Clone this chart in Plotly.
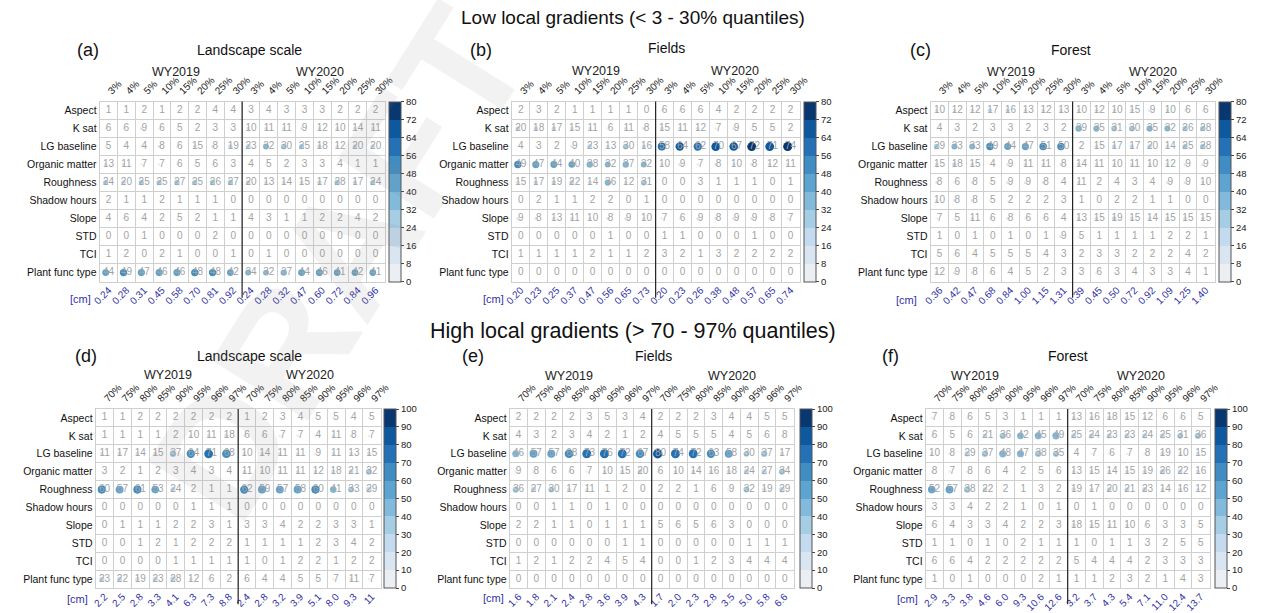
import numpy as np
import plotly.graph_objects as go

# ---------------------------------------------------------------- data
rows = ["Aspect", "K sat", "LG baseline", "Organic matter", "Roughness",
        "Shadow hours", "Slope", "STD", "TCI", "Plant func type"]
low_q = ["3%", "4%", "5%", "10%", "15%", "20%", "25%", "30%"]
high_q = ["70%", "75%", "80%", "85%", "90%", "95%", "96%", "97%"]

# each row: 8 quantiles of WY2019 followed by 8 quantiles of WY2020 (share in %)
land_low = [
    [1, 1, 2, 1, 2, 2, 4, 4, 3, 4, 3, 3, 3, 2, 2, 2],
    [6, 6, 9, 6, 5, 2, 3, 3, 10, 11, 11, 9, 12, 10, 14, 11],
    [5, 4, 4, 8, 6, 15, 8, 19, 23, 32, 30, 25, 18, 12, 20, 20],
    [13, 11, 7, 7, 6, 5, 6, 3, 4, 5, 2, 3, 3, 4, 1, 1],
    [24, 20, 25, 25, 27, 25, 26, 27, 20, 13, 14, 15, 17, 28, 17, 24],
    [2, 1, 1, 2, 1, 1, 1, 0, 0, 0, 0, 0, 0, 0, 0, 0],
    [4, 6, 4, 2, 5, 2, 1, 1, 4, 3, 1, 1, 2, 2, 4, 2],
    [0, 0, 1, 0, 0, 0, 2, 0, 0, 0, 0, 0, 0, 0, 0, 0],
    [1, 2, 0, 2, 1, 0, 0, 1, 0, 1, 0, 0, 0, 0, 0, 0],
    [44, 49, 47, 46, 46, 48, 48, 42, 34, 32, 37, 44, 46, 41, 42, 41],
]
fields_low = [
    [2, 3, 2, 1, 1, 1, 1, 0, 6, 6, 6, 4, 2, 2, 2, 2],
    [20, 18, 17, 15, 11, 6, 11, 8, 15, 11, 12, 7, 9, 5, 5, 2],
    [4, 3, 2, 9, 23, 13, 30, 16, 58, 64, 62, 70, 67, 72, 71, 74],
    [49, 47, 44, 40, 38, 32, 37, 32, 10, 9, 7, 8, 10, 8, 12, 11],
    [15, 17, 19, 22, 14, 36, 12, 31, 0, 0, 3, 1, 1, 1, 0, 1],
    [0, 2, 1, 1, 2, 2, 0, 1, 0, 0, 0, 0, 0, 0, 0, 0],
    [9, 8, 13, 11, 10, 8, 9, 10, 7, 6, 9, 8, 9, 9, 8, 7],
    [0, 0, 0, 0, 0, 1, 0, 0, 1, 1, 0, 0, 0, 1, 0, 0],
    [1, 1, 1, 1, 2, 1, 1, 2, 3, 2, 1, 3, 2, 2, 2, 2],
    [0, 0, 0, 0, 0, 0, 0, 0, 0, 0, 0, 0, 0, 0, 0, 0],
]
forest_low = [
    [10, 12, 12, 17, 16, 13, 12, 13, 10, 12, 10, 15, 9, 10, 6, 6],
    [4, 3, 2, 3, 3, 2, 3, 2, 39, 35, 31, 30, 35, 32, 26, 28],
    [29, 33, 33, 49, 44, 47, 51, 50, 2, 15, 17, 17, 20, 14, 25, 28],
    [15, 18, 15, 4, 9, 11, 11, 8, 14, 11, 10, 11, 10, 12, 9, 9],
    [8, 6, 8, 5, 9, 9, 8, 4, 11, 2, 4, 3, 4, 9, 9, 10],
    [10, 8, 8, 5, 2, 2, 2, 3, 1, 0, 2, 2, 1, 1, 0, 0],
    [7, 5, 11, 6, 8, 6, 6, 4, 13, 15, 19, 15, 14, 15, 15, 15],
    [1, 0, 1, 0, 1, 0, 1, 9, 5, 1, 1, 1, 1, 2, 2, 1],
    [5, 6, 4, 5, 5, 5, 4, 3, 2, 3, 3, 2, 2, 2, 4, 2],
    [12, 9, 8, 6, 4, 5, 2, 3, 3, 6, 3, 4, 3, 3, 4, 1],
]
land_high = [
    [1, 1, 2, 2, 2, 2, 2, 2, 1, 2, 3, 4, 5, 5, 4, 5],
    [1, 1, 1, 1, 2, 10, 11, 18, 6, 6, 7, 7, 4, 11, 8, 7],
    [11, 17, 14, 15, 37, 64, 71, 68, 10, 14, 11, 11, 9, 11, 13, 15],
    [3, 2, 1, 2, 3, 4, 3, 4, 11, 10, 11, 11, 12, 18, 21, 32],
    [60, 57, 61, 53, 24, 2, 1, 1, 62, 59, 57, 58, 60, 41, 33, 29],
    [0, 0, 0, 0, 0, 1, 1, 1, 0, 0, 0, 0, 0, 0, 0, 0],
    [0, 1, 1, 1, 2, 2, 3, 1, 3, 3, 4, 2, 2, 3, 3, 1],
    [0, 0, 1, 2, 1, 2, 2, 2, 1, 1, 1, 1, 2, 3, 4, 2],
    [0, 0, 0, 0, 1, 1, 1, 1, 1, 0, 1, 2, 2, 1, 2, 2],
    [23, 22, 19, 23, 28, 12, 6, 2, 6, 4, 4, 5, 5, 7, 11, 7],
]
fields_high = [
    [2, 2, 2, 2, 3, 5, 3, 4, 2, 2, 2, 3, 4, 4, 5, 5],
    [4, 3, 2, 3, 4, 2, 1, 2, 4, 5, 5, 5, 4, 5, 6, 8],
    [46, 57, 57, 68, 73, 76, 72, 67, 80, 74, 72, 63, 58, 30, 37, 17],
    [9, 8, 6, 6, 7, 10, 15, 20, 6, 10, 14, 16, 18, 24, 27, 34],
    [36, 27, 30, 17, 11, 1, 2, 0, 2, 2, 1, 6, 9, 32, 19, 29],
    [0, 0, 1, 1, 0, 1, 0, 0, 0, 0, 0, 0, 0, 0, 0, 0],
    [2, 2, 1, 1, 0, 1, 1, 1, 5, 6, 5, 6, 3, 0, 0, 0],
    [0, 0, 0, 0, 0, 0, 1, 1, 0, 0, 0, 0, 0, 1, 1, 1],
    [1, 2, 1, 2, 2, 4, 5, 4, 0, 0, 1, 2, 3, 4, 4, 4],
    [0, 0, 0, 0, 0, 0, 0, 0, 0, 0, 0, 0, 0, 0, 0, 0],
]
forest_high = [
    [7, 8, 6, 5, 3, 1, 1, 1, 13, 16, 18, 15, 12, 6, 6, 5],
    [6, 5, 6, 21, 36, 42, 45, 49, 25, 24, 23, 23, 24, 25, 31, 36],
    [10, 8, 29, 37, 48, 47, 38, 35, 4, 7, 6, 7, 8, 19, 10, 15],
    [8, 7, 8, 6, 4, 2, 5, 6, 13, 15, 14, 15, 19, 26, 22, 16],
    [52, 57, 38, 22, 2, 1, 3, 2, 19, 17, 20, 21, 23, 14, 16, 12],
    [3, 3, 4, 2, 2, 1, 0, 1, 0, 1, 0, 0, 0, 0, 0, 0],
    [6, 4, 3, 3, 4, 2, 2, 3, 18, 15, 11, 10, 6, 3, 3, 5],
    [1, 1, 0, 1, 0, 2, 1, 1, 1, 0, 1, 1, 3, 2, 5, 5],
    [6, 6, 4, 2, 2, 2, 2, 2, 5, 4, 4, 4, 2, 3, 3, 3],
    [1, 0, 1, 0, 0, 0, 2, 1, 1, 1, 2, 3, 2, 1, 4, 3],
]

land_low_cm = ["0.24", "0.28", "0.31", "0.45", "0.58", "0.70", "0.81", "0.92",
               "0.24", "0.28", "0.32", "0.47", "0.60", "0.72", "0.84", "0.96"]
fields_low_cm = ["0.20", "0.23", "0.25", "0.37", "0.47", "0.56", "0.65", "0.73",
                 "0.20", "0.23", "0.26", "0.38", "0.48", "0.57", "0.65", "0.74"]
forest_low_cm = ["0.36", "0.42", "0.47", "0.68", "0.84", "1.00", "1.15", "1.31",
                 "0.39", "0.45", "0.50", "0.72", "0.92", "1.09", "1.25", "1.40"]
land_high_cm = ["2.2", "2.5", "2.8", "3.3", "4.1", "6.3", "7.3", "8.8",
                "2.4", "2.8", "3.2", "3.9", "5.1", "8.0", "9.3", "11"]
fields_high_cm = ["1.6", "1.8", "2.1", "2.4", "2.8", "3.6", "3.9", "4.3",
                  "1.7", "2.0", "2.3", "2.8", "3.5", "5.0", "5.8", "6.6"]
forest_high_cm = ["2.9", "3.3", "3.8", "4.6", "6.0", "9.3", "10.6", "12.6",
                  "3.2", "3.7", "4.3", "5.4", "7.1", "11.0", "12.4", "13.7"]

# ---------------------------------------------------------------- styling
W, H = 1263, 613
FONT = "Liberation Sans, Arial, sans-serif"
GRID = "#cfcfcf"
NUM_COLOR = "#a3a3a3"
CM_COLOR = "#3232a6"
BLUES10 = ["#ebeff3", "#d9e5f0", "#c4daee", "#a5cde3", "#82badb",
           "#5ea4d1", "#3f8dc3", "#2472b5", "#0e589f", "#08386f"]


def px(x):
    return x / W


def py(y):
    return 1 - y / H


def stepped(colors):
    n = len(colors)
    scale = []
    for k, c in enumerate(colors):
        scale.append([k / n, c])
        scale.append([(k + 1) / n, c])
    return scale


CSCALE = stepped(BLUES10)

# panel geometry in pixels: grid box, colour bar left edge, header positions
panels = [
    dict(tag="(a)", name="Landscape scale", v=land_low, cm=land_low_cm, q=low_q, vmax=80,
         box=(93, 382, 102, 283), cbx=387, tag_xy=(81, 50), name_xy=(245, 50),
         wy=(170, 317, 72), cm_xy=(74, 300)),
    dict(tag="(b)", name="Fields", v=fields_low, cm=fields_low_cm, q=low_q, vmax=80,
         box=(511, 803, 102, 283), cbx=808, tag_xy=(480, 50), name_xy=(668, 48),
         wy=(596, 738, 71), cm_xy=(493, 300)),
    dict(tag="(c)", name="Forest", v=forest_low, cm=forest_low_cm, q=low_q, vmax=80,
         box=(936, 1224, 102, 283), cbx=1229, tag_xy=(926, 50), name_xy=(1078, 50),
         wy=(1017, 1162, 72), cm_xy=(911, 301)),
    dict(tag="(d)", name="Landscape scale", v=land_high, cm=land_high_cm, q=high_q, vmax=100,
         box=(89, 378, 411, 591), cbx=381, tag_xy=(79, 358), name_xy=(245, 358),
         wy=(162, 306, 377), cm_xy=(71, 602)),
    dict(tag="(e)", name="Fields", v=fields_high, cm=fields_high_cm, q=high_q, vmax=100,
         box=(509, 797, 411, 591), cbx=803, tag_xy=(472, 358), name_xy=(655, 358),
         wy=(569, 734, 378), cm_xy=(493, 601)),
    dict(tag="(f)", name="Forest", v=forest_high, cm=forest_high_cm, q=high_q, vmax=100,
         box=(931, 1219, 411, 591), cbx=1224, tag_xy=(895, 358), name_xy=(1075, 358),
         wy=(981, 1149, 378), cm_xy=(913, 602)),
]

fig = go.Figure()
layout = dict(
    width=W, height=H, margin=dict(l=0, r=0, t=0, b=0),
    paper_bgcolor="white", plot_bgcolor="white", showlegend=False,
    font=dict(family=FONT, color="#222"),
)
annotations = []
shapes = []

ncol = 16
cols = np.arange(ncol)
row_idx = np.arange(len(rows))

for i, p in enumerate(panels):
    xa, xb, ya = 2 * i + 1, 2 * i + 2, i + 1
    xa_name = "x" if xa == 1 else f"x{xa}"
    xb_name = f"x{xb}"
    ya_name = "y" if ya == 1 else f"y{ya}"
    x0, x1, y0, y1 = p["box"]

    vals = np.array(p["v"], dtype=float)
    cx, cy = np.meshgrid(cols, row_idx)
    cx = cx.ravel()
    cy = cy.ravel()
    vv = vals.ravel()

    # bubbles: area grows with the share, colour on a stepped Blues scale
    fig.add_trace(go.Scatter(
        x=cx - 0.16, y=cy, mode="markers", xaxis=xa_name, yaxis=ya_name,
        hoverinfo="skip",
        marker=dict(
            size=np.sqrt(vv) * 1.05, color=vv, colorscale=CSCALE,
            cmin=0, cmax=p["vmax"], line=dict(width=0), opacity=1,
            showscale=True,
            colorbar=dict(
                x=px(p["cbx"]), xanchor="left", xpad=0, ypad=0,
                y=py((y0 + y1) / 2), yanchor="middle",
                len=(y1 - y0) / H, lenmode="fraction",
                thickness=12, thicknessmode="pixels",
                outlinewidth=1, outlinecolor="#555",
                ticks="outside", ticklen=3, tickcolor="#444",
                tickvals=list(np.linspace(0, p["vmax"], 11)),
                ticktext=[str(int(t)) for t in np.linspace(0, p["vmax"], 11)],
                tickfont=dict(size=9.5, color="#222", family=FONT),
            ),
        ),
    ))
    # cell values
    fig.add_trace(go.Scatter(
        x=cx, y=cy, mode="text", xaxis=xb_name, yaxis=ya_name,
        text=[str(int(t)) for t in vv], hoverinfo="skip",
        textfont=dict(size=10, color=NUM_COLOR, family=FONT),
        textposition="middle center",
    ))

    dom_x = [px(x0), px(x1)]
    dom_y = [py(y1), py(y0)]
    minor_x = [k - 0.5 for k in range(ncol + 1)]
    minor_y = [k - 0.5 for k in range(len(rows) + 1)]

    layout[f"xaxis{'' if xa == 1 else xa}"] = dict(
        domain=dom_x, anchor=ya_name, range=[-0.5, ncol - 0.5], side="top",
        tickmode="array", tickvals=list(cols), ticktext=p["q"] * 2,
        tickangle=-45, tickfont=dict(size=10, color="#222"), ticks="",
        showgrid=False, zeroline=False, fixedrange=True,
        showline=True, mirror=True, linecolor=GRID, linewidth=1,
        minor=dict(tickmode="array", tickvals=minor_x, showgrid=True,
                   gridcolor=GRID, gridwidth=1, ticks=""),
    )
    layout[f"xaxis{xb}"] = dict(
        overlaying=xa_name, anchor=ya_name, range=[-0.5, ncol - 0.5], side="bottom",
        tickmode="array", tickvals=list(cols), ticktext=p["cm"],
        tickangle=-45, tickfont=dict(size=10, color=CM_COLOR), ticks="",
        showgrid=False, zeroline=False, showline=False, fixedrange=True,
    )
    layout[f"yaxis{'' if ya == 1 else ya}"] = dict(
        domain=dom_y, anchor=xa_name, range=[len(rows) - 0.5, -0.5],
        tickmode="array", tickvals=list(row_idx), ticktext=rows,
        tickfont=dict(size=10.5, color="#111"), ticks="",
        showgrid=False, zeroline=False, fixedrange=True,
        showline=True, mirror=True, linecolor=GRID, linewidth=1,
        minor=dict(tickmode="array", tickvals=minor_y, showgrid=True,
                   gridcolor=GRID, gridwidth=1, ticks=""),
    )

    # divider between the two water years
    shapes.append(dict(type="line", xref=xa_name, yref=f"{ya_name} domain",
                       x0=7.5, x1=7.5, y0=-0.09, y1=1.0,
                       line=dict(color="#222", width=1.2)))

    annotations += [
        dict(text=p["tag"], x=px(p["tag_xy"][0]), y=py(p["tag_xy"][1]),
             font=dict(size=18, color="#111")),
        dict(text=p["name"], x=px(p["name_xy"][0]), y=py(p["name_xy"][1]),
             font=dict(size=14, color="#111")),
        dict(text="WY2019", x=px(p["wy"][0]), y=py(p["wy"][2]),
             font=dict(size=12.5, color="#222")),
        dict(text="WY2020", x=px(p["wy"][1]), y=py(p["wy"][2]),
             font=dict(size=12.5, color="#222")),
        dict(text="[cm]", x=px(p["cm_xy"][0]), y=py(p["cm_xy"][1]),
             font=dict(size=11, color=CM_COLOR)),
    ]

annotations += [
    dict(text="Low local gradients (&lt; 3 - 30% quantiles)", x=px(634), y=py(18),
         font=dict(size=19, color="#111")),
    dict(text="High local gradients (&gt; 70 - 97% quantiles)", x=px(634), y=py(333),
         font=dict(size=21.5, color="#111")),
    # faint diagonal stamp across the left half
    dict(text="<b>DRAFT</b>", x=px(335), y=py(265), textangle=-58,
         font=dict(size=165, color="rgba(140,140,140,0.11)")),
]
for a in annotations:
    a.update(xref="paper", yref="paper", showarrow=False,
             xanchor="center", yanchor="middle")

layout["annotations"] = annotations
layout["shapes"] = shapes
fig.update_layout(**layout)

fig.write_html("out.html")
